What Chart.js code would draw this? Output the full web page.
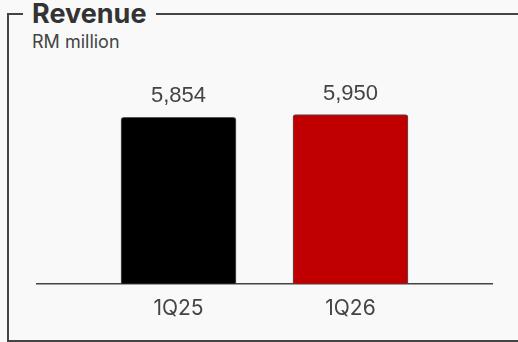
<!DOCTYPE html>
<html>
<head>
<meta charset="utf-8">
<script src="https://cdn.jsdelivr.net/npm/chart.js@4/dist/chart.umd.min.js"></script>
<style>
    html, body { margin: 0; padding: 0; background: #f9f9f9; }
    body { width: 518px; height: 342px; position: relative; overflow: hidden; font-family: 'Inter', sans-serif; }
    .frame {
        position: absolute; left: 7px; top: 13px; width: 530px; height: 329px;
        border: 2px solid #444; box-sizing: border-box;
    }
    .title {
        position: absolute; left: 23px; top: -4px; padding: 0 9px;
        background: #f9f9f9; color: #333; font-weight: 700; font-size: 27px; line-height: 36px;
    }
    .subtitle { position: absolute; left: 32px; top: 31px; color: #444; font-size: 18px; }
    #chartWrap { position: absolute; left: 0; top: 0; width: 518px; height: 342px; }
</style>
</head>
<body>
<div class="frame"></div>
<div class="title">Revenue</div>
<div class="subtitle">RM million</div>
<div id="chartWrap"><canvas id="revenueChart"></canvas></div>
<script>
    // Quarterly revenue, RM million
    const quarters = ['1Q25', '1Q26'];
    const revenue = [5854, 5950];
    const barColors = ['#000000', '#c00000'];

    // Value labels drawn above each bar
    const valueLabels = {
        id: 'valueLabels',
        afterDatasetsDraw(chart) {
            const ctx = chart.ctx;
            const meta = chart.getDatasetMeta(0);
            ctx.save();
            ctx.font = '22px "Liberation Sans", Arial, sans-serif';
            ctx.fillStyle = '#444';
            ctx.textAlign = 'center';
            ctx.textBaseline = 'bottom';
            meta.data.forEach((bar, i) => {
                ctx.fillText(revenue[i].toLocaleString('en-US'), bar.x, bar.y - 10);
            });
            ctx.restore();
        }
    };

    const ctx = document.getElementById('revenueChart').getContext('2d');
    new Chart(ctx, {
        type: 'bar',
        data: {
            datasets: [{
                data: revenue.map((v, i) => ({ x: i, y: v })),
                backgroundColor: barColors,
                borderColor: '#555',
                borderWidth: 1,
                borderRadius: { topLeft: 3, topRight: 3 },
                borderSkipped: 'bottom',
                barThickness: 115
            }]
        },
        options: {
            responsive: true,
            maintainAspectRatio: false,
            animation: false,
            layout: { padding: { left: 37, right: 26, top: 28, bottom: 9 } },
            plugins: { legend: { display: false }, tooltip: { enabled: false } },
            scales: {
                x: {
                    type: 'linear',
                    offset: false,
                    min: -0.823,
                    max: 1.823,
                    afterBuildTicks(scale) {
                        scale.ticks = quarters.map((q, i) => ({ value: i }));
                    },
                    grid: { display: false, drawTicks: false },
                    border: { display: true, color: '#444', width: 1.5 },
                    ticks: {
                        padding: 12,
                        color: '#444',
                        font: { family: 'Inter', size: 21 },
                        callback: (v) => quarters[v] || ''
                    }
                },
                y: {
                    display: false,
                    min: 0,
                    max: 9000
                }
            }
        },
        plugins: [valueLabels]
    });
</script>
</body>
</html>
